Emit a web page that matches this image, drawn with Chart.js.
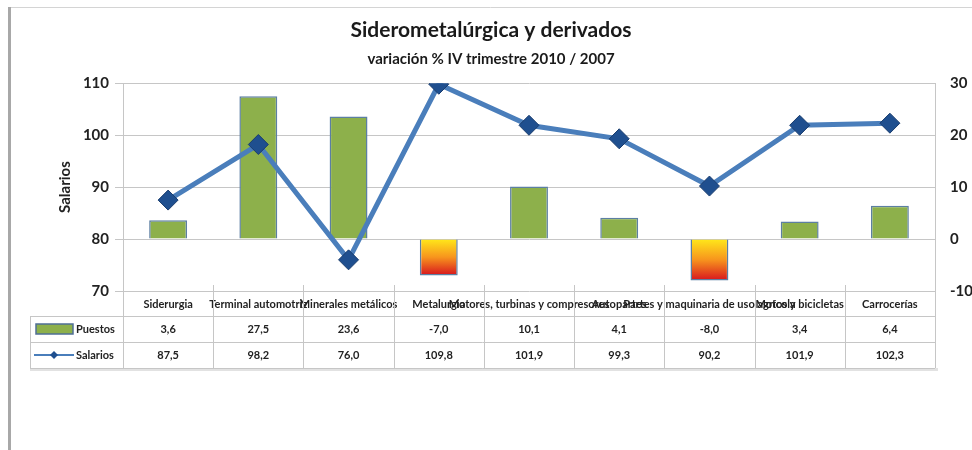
<!DOCTYPE html>
<html>
<head>
<meta charset="utf-8">
<script src="https://cdn.jsdelivr.net/npm/chart.js@4.4.1/dist/chart.umd.min.js"></script>
<style>
  html, body { margin: 0; padding: 0; background: #fff; }
  #wrap { width: 972px; height: 450px; }
</style>
</head>
<body>
<div id="wrap"><canvas id="chart" width="972" height="450"></canvas></div>
<script>
// Siderometalúrgica y derivados - variación % IV trimestre 2010 / 2007

const categories = [
    'Siderurgia',
    'Terminal automotriz',
    'Minerales metálicos',
    'Metalurgia',
    'Motores, turbinas y compresores',
    'Autopartes',
    'Partes y maquinaria de uso agrícola',
    'Motos y bicicletas',
    'Carrocerías'
];
const puestos = [3.6, 27.5, 23.6, -7.0, 10.1, 4.1, -8.0, 3.4, 6.4];
const salarios = [87.5, 98.2, 76.0, 109.8, 101.9, 99.3, 90.2, 101.9, 102.3];
const salariosTicks = [70, 80, 90, 100, 110];
const puestosTicks = [-10, 0, 10, 20, 30];

const FONT = 'Lato, "Open Sans", sans-serif';
const GRID = '#c6c6c6';

function fmt(v) {
    return v.toFixed(1).replace('.', ',');
}

// bar fill: green for positive, yellow->red for negative
function barFill(context) {
    const chart = context.chart;
    const v = context.raw;
    if (v >= 0) return '#8db04b';
    if (!chart.chartArea) return '#e8401a';
    const y1 = chart.scales.y1;
    const top = y1.getPixelForValue(0);
    const bot = y1.getPixelForValue(v);
    const g = chart.ctx.createLinearGradient(0, top, 0, bot);
    g.addColorStop(0, '#ffe81a');
    g.addColorStop(0.5, '#f7941d');
    g.addColorStop(1, '#d7141e');
    return g;
}

// frame + data table under the plot
const tablePlugin = {
    id: 'tablePlugin',
    beforeDraw(chart) {
        const ctx = chart.ctx;
        ctx.save();
        ctx.fillStyle = '#fff';
        ctx.fillRect(0, 0, chart.width, chart.height);
        ctx.strokeStyle = '#d4d4d4';
        ctx.lineWidth = 1;
        ctx.beginPath();
        ctx.moveTo(9, 7.5);
        ctx.lineTo(chart.width, 7.5);
        ctx.stroke();
        ctx.strokeStyle = '#a8a8a8';
        ctx.lineWidth = 3;
        ctx.beginPath();
        ctx.moveTo(9.5, 7);
        ctx.lineTo(9.5, chart.height);
        ctx.stroke();
        ctx.restore();
    },
    afterDraw(chart) {
        const ctx = chart.ctx;
        const area = chart.chartArea;
        const x = chart.scales.x;
        const n = categories.length;
        const step = (area.right - area.left) / n;
        const rowTop = area.bottom;
        const rowH = 26;
        const r1 = rowTop + 25;
        const r2 = r1 + rowH;
        const r3 = r2 + rowH;
        const legLeft = 30;

        ctx.save();
        // shadow under table
        ctx.fillStyle = '#e2e2e2';
        ctx.fillRect(legLeft, r3, area.right - legLeft + 3, 3);

        ctx.strokeStyle = GRID;
        ctx.lineWidth = 1;
        ctx.beginPath();
        // horizontal rules
        [r1, r2, r3].forEach(y => {
            ctx.moveTo(legLeft, Math.round(y) + 0.5);
            ctx.lineTo(area.right, Math.round(y) + 0.5);
        });
        // vertical rules
        for (let i = 0; i <= n; i++) {
            const xx = Math.round(area.left + i * step) + 0.5;
            ctx.moveTo(xx, rowTop - 6);
            ctx.lineTo(xx, r3);
        }
        ctx.moveTo(legLeft + 0.5, r1);
        ctx.lineTo(legLeft + 0.5, r3);
        ctx.stroke();

        // legend keys
        ctx.fillStyle = '#8db04b';
        ctx.fillRect(36, r1 + 8, 37, 10);
        ctx.strokeStyle = '#4f6f95';
        ctx.lineWidth = 1.5;
        ctx.strokeRect(36, r1 + 8, 37, 10);

        const ly = r2 + rowH / 2;
        ctx.strokeStyle = '#4a7ebb';
        ctx.lineWidth = 2;
        ctx.beginPath();
        ctx.moveTo(34, ly);
        ctx.lineTo(74, ly);
        ctx.stroke();
        ctx.fillStyle = '#1f4f8f';
        ctx.beginPath();
        ctx.moveTo(54, ly - 4);
        ctx.lineTo(58, ly);
        ctx.lineTo(54, ly + 4);
        ctx.lineTo(50, ly);
        ctx.closePath();
        ctx.fill();

        ctx.fillStyle = '#222';
        ctx.font = 'bold 11px ' + FONT;
        ctx.textBaseline = 'middle';
        ctx.textAlign = 'left';
        ctx.fillText('Puestos', 76, r1 + rowH / 2);
        ctx.fillText('Salarios', 76, ly);

        // values
        ctx.textAlign = 'center';
        for (let i = 0; i < n; i++) {
            const cx = x.getPixelForValue(i);
            ctx.fillText(fmt(puestos[i]), cx, r1 + rowH / 2);
            ctx.fillText(fmt(salarios[i]), cx, ly);
        }
        ctx.restore();
    }
};

new Chart(document.getElementById('chart'), {
    data: {
        labels: categories,
        datasets: [
            {
                type: 'line',
                label: 'Salarios',
                data: salarios,
                yAxisID: 'y',
                order: 0,
                borderColor: '#4a7ebb',
                borderWidth: 5,
                tension: 0,
                pointStyle: 'rectRot',
                pointRadius: 10,
                pointBackgroundColor: '#1f4f8f',
                pointBorderColor: '#1a3d6e',
                pointBorderWidth: 1
            },
            {
                type: 'bar',
                label: 'Puestos',
                data: puestos,
                yAxisID: 'y1',
                order: 1,
                backgroundColor: barFill,
                borderColor: '#5c7fa3',
                borderWidth: 1.5,
                barPercentage: 0.42,
                categoryPercentage: 1
            }
        ]
    },
    options: {
        responsive: false,
        animation: false,
        layout: {
            padding: { top: 13, left: 10, right: 0, bottom: 0 }
        },
        plugins: {
            legend: { display: false },
            tooltip: { enabled: false },
            title: {
                display: true,
                text: 'Siderometalúrgica y derivados',
                color: '#1a1a1a',
                font: { family: FONT, size: 21, weight: 'bold' },
                padding: { top: 5, bottom: 4 }
            },
            subtitle: {
                display: true,
                text: 'variación % IV trimestre 2010 / 2007',
                color: '#1a1a1a',
                font: { family: FONT, size: 15, weight: 'bold' },
                padding: { top: 3, bottom: 15 }
            }
        },
        scales: {
            x: {
                grid: { display: false, drawTicks: false },
                border: { display: false },
                ticks: {
                    autoSkip: false,
                    maxRotation: 0,
                    minRotation: 0,
                    padding: 7,
                    color: '#222',
                    font: { family: FONT, size: 11, weight: 'bold' }
                },
                afterFit(scale) { scale.height = 159; }
            },
            y: {
                position: 'left',
                min: 70,
                max: 110,
                afterBuildTicks(scale) {
                    scale.ticks = salariosTicks.map(v => ({ value: v }));
                },
                grid: { color: GRID, drawTicks: true, tickLength: 8, tickColor: GRID },
                border: { display: true, color: GRID },
                ticks: {
                    padding: 6,
                    color: '#222',
                    font: { family: FONT, size: 15, weight: 'bold' }
                },
                title: {
                    display: true,
                    text: 'Salarios',
                    color: '#222',
                    font: { family: FONT, size: 15, weight: 'bold' },
                    padding: { top: 46, bottom: 8 }
                },
                afterFit(scale) { scale.width = 113; }
            },
            y1: {
                position: 'right',
                min: -10,
                max: 30,
                afterBuildTicks(scale) {
                    scale.ticks = puestosTicks.map(v => ({ value: v }));
                },
                grid: { drawOnChartArea: false, drawTicks: false },
                border: { display: true, color: GRID },
                ticks: {
                    padding: 15,
                    color: '#222',
                    font: { family: FONT, size: 15, weight: 'bold' }
                },
                afterFit(scale) { scale.width = 37; }
            }
        }
    },
    plugins: [tablePlugin]
});
</script>
</body>
</html>
